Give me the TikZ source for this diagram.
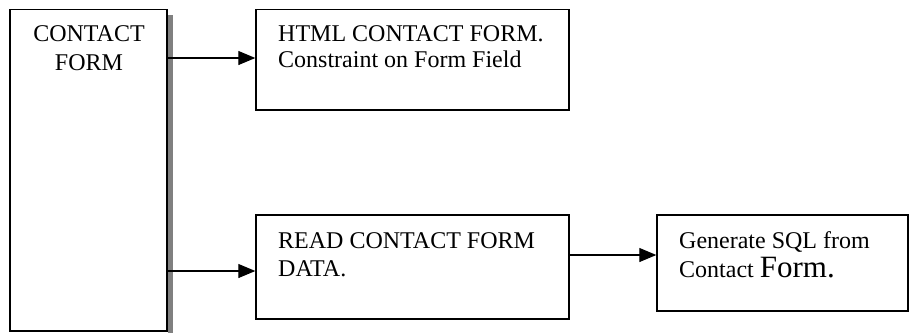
\documentclass[tikz,border=0pt]{standalone}
\usepackage{fontspec}
\setmainfont{Liberation Serif}
\usetikzlibrary{arrows.meta}

\begin{document}
\begin{tikzpicture}[x=1pt, y=-1pt,
  box/.style={draw=black, line width=1.4pt, inner sep=0pt, fill=white},
  lbl/.style={inner sep=0pt, font=\fontsize{24pt}{28pt}\selectfont},
  arr/.style={draw=black, line width=1.1pt, -{Triangle[length=17pt,width=14pt]}},
  shade/.style={fill=black!50, draw=none}]

  % page frame
  \useasboundingbox (0,0) rectangle (909,333);

  % shadow strip on the right of the tall box
  \fill[shade] (167.5,15) rectangle (173,333);

  % boxes
  \node[box, minimum width=157pt, minimum height=321.5pt] (cf) at (88.5,170.25) {};
  \node[box, minimum width=313pt, minimum height=100.5pt] (html) at (412.5,59.75) {};
  \node[box, minimum width=313pt, minimum height=104pt] (read) at (412.5,267) {};
  \node[box, minimum width=251pt, minimum height=96pt] (sql) at (782.5,263) {};

  % texts
  \node[lbl, anchor=base] (cf1) at (89,41) {CONTACT};
  \node[lbl, anchor=base] (cf2) at (89,70) {FORM};
  \node[lbl, anchor=base west] (h1) at (278,41) {HTML CONTACT FORM.};
  \node[lbl, anchor=base west] (h2) at (278,67) {Constraint on Form Field};
  \node[lbl, anchor=base west] (r1) at (278,248.5) {READ CONTACT FORM};
  \node[lbl, anchor=base west] (r2) at (278,276) {DATA.};
  \node[lbl, anchor=base west] (s1) at (679,248.5) {Generate SQL from};
  \node[lbl, anchor=base west] (s2) at (679,277.5) {Contact {\fontsize{31pt}{31pt}\selectfont Form.}};

  % connectors
  \draw[arr] ([yshift=1.75pt]cf.east |- html.west) -- ([yshift=1.75pt]html.west);
  \draw[arr] ([yshift=-4pt]cf.east |- read.west) -- ([yshift=-4pt]read.west);
  \draw[arr] ([yshift=8pt]read.east |- sql.west) -- ([yshift=8pt]sql.west);
\end{tikzpicture}
\end{document}
